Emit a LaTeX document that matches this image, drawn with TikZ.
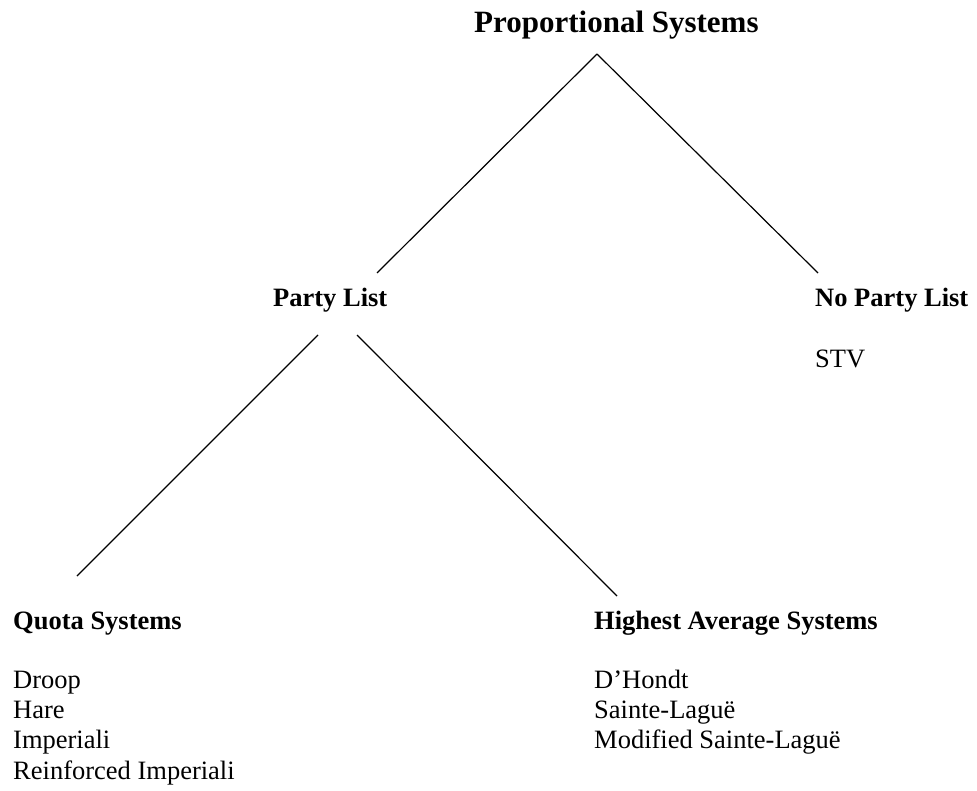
\documentclass[tikz,border=0pt]{standalone}
\usepackage{fontspec}
\setmainfont{Liberation Serif}
\begin{document}
\begin{tikzpicture}[x=1pt,y=-1pt,
  lbl/.style={anchor=base west,inner sep=0pt,font=\fontsize{26.5}{30}\selectfont},
  head/.style={lbl,font=\fontsize{26.5}{30}\selectfont\bfseries},
  ttl/.style={lbl,font=\fontsize{31}{34}\selectfont\bfseries},
  conn/.style={draw=black,line width=1.2pt}]
\useasboundingbox (0,0) rectangle (977,791);
\node[ttl] (top) at (474,33) {Proportional Systems};
\node[head] (pl) at (273,307) {Party List};
\node[head] (npl) at (815,307) {No Party List};
\node[lbl] (stv) at (815,368) {STV};
\node[head] (quota) at (13,629) {Quota Systems};
\node[lbl] (droop) at (13,688) {Droop};
\node[lbl] (hare) at (13,718) {Hare};
\node[lbl] (imp) at (13,748) {Imperiali};
\node[lbl] (rimp) at (13,779) {Reinforced Imperiali};
\node[head] (high) at (594,629) {Highest Average Systems};
\node[lbl] (dh) at (594,688) {D’Hondt};
\node[lbl] (sl) at (594,718) {Sainte-Laguë};
\node[lbl] (msl) at (594,748) {Modified Sainte-Laguë};
\coordinate (apex) at (597,54);
\coordinate (plT) at (377,273);
\coordinate (nplT) at (818,273);
\coordinate (plL) at (318,335);
\coordinate (plR) at (357,335);
\coordinate (quotaT) at (77,576);
\coordinate (highT) at (617,596);
\draw[conn] (apex) -- (plT);
\draw[conn] (apex) -- (nplT);
\draw[conn] (plL) -- (quotaT);
\draw[conn] (plR) -- (highT);
\end{tikzpicture}
\end{document}
